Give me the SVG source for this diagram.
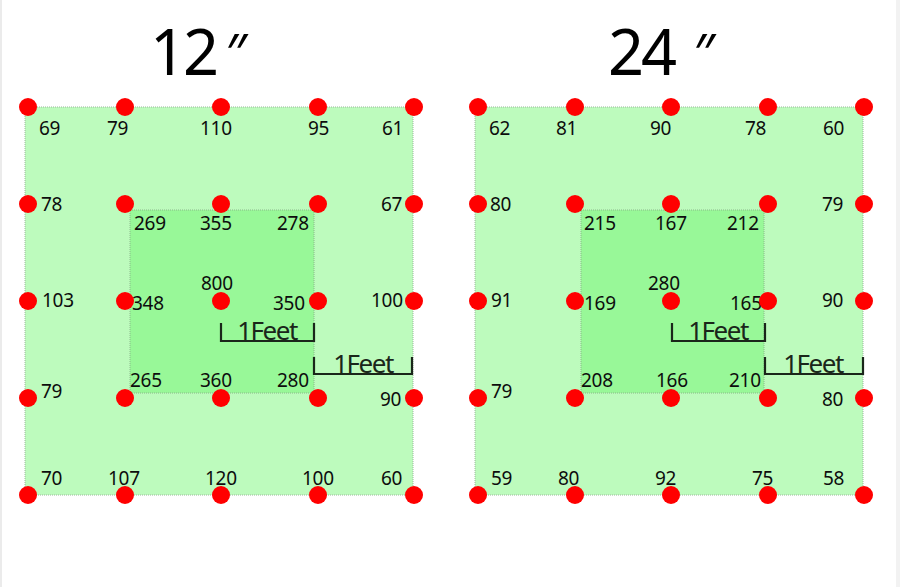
<svg xmlns="http://www.w3.org/2000/svg" width="900" height="587" viewBox="0 0 900 587">
<style>
.outer{fill:#bdfbbd;stroke:#9ab89a;stroke-width:1;stroke-dasharray:1 1}
.inner{fill:#98f898;stroke:#8ab88a;stroke-width:1;stroke-dasharray:1 1}
.dot{fill:#ff0000}
.lbl{font-family:"Noto Sans","Open Sans",sans-serif;font-size:19px;fill:#0d0d0d;letter-spacing:-0.3px}
.title{font-family:"Noto Sans","Open Sans",sans-serif;font-size:63px;fill:#000;letter-spacing:-3px}
.q{font-family:"Noto Sans","Open Sans",sans-serif;font-size:52px;fill:#000}
.ft{font-family:"Noto Sans","Open Sans",sans-serif;font-size:26px;fill:#1a261a;text-anchor:middle;letter-spacing:-1.5px}
.br{fill:none;stroke:#1a261a;stroke-width:2.2}
</style>
<defs>
<g id="dots">
<circle class="dot" cx="28" cy="107" r="9"/><circle class="dot" cx="125" cy="107" r="9"/><circle class="dot" cx="221" cy="107" r="9"/><circle class="dot" cx="318" cy="107" r="9"/><circle class="dot" cx="414" cy="107" r="9"/>
<circle class="dot" cx="28" cy="204" r="9"/><circle class="dot" cx="125" cy="204" r="9"/><circle class="dot" cx="221" cy="204" r="9"/><circle class="dot" cx="318" cy="204" r="9"/><circle class="dot" cx="414" cy="204" r="9"/>
<circle class="dot" cx="28" cy="301" r="9"/><circle class="dot" cx="125" cy="301" r="9"/><circle class="dot" cx="221" cy="301" r="9"/><circle class="dot" cx="318" cy="301" r="9"/><circle class="dot" cx="414" cy="301" r="9"/>
<circle class="dot" cx="28" cy="398" r="9"/><circle class="dot" cx="125" cy="398" r="9"/><circle class="dot" cx="221" cy="398" r="9"/><circle class="dot" cx="318" cy="398" r="9"/><circle class="dot" cx="414" cy="398" r="9"/>
<circle class="dot" cx="28" cy="495" r="9"/><circle class="dot" cx="125" cy="495" r="9"/><circle class="dot" cx="221" cy="495" r="9"/><circle class="dot" cx="318" cy="495" r="9"/><circle class="dot" cx="414" cy="495" r="9"/>
</g>
<g id="bracketShape">
<path class="br" d="M221,323 V341 H314 V323"/>
<path class="br" d="M314,357 V374 H412 V357"/>
</g>
</defs>
<rect x="0" y="0" width="900" height="587" fill="#ffffff"/>
<rect x="0" y="0" width="2" height="587" fill="#ebebeb"/>
<rect x="896" y="0" width="4" height="587" fill="#f2f2f2"/>

<g id="grid12">
<text class="title" x="150" y="75">12</text>
<text class="q" x="226" y="72">″</text>
<rect class="outer" x="25" y="107" width="388" height="388"/>
<rect class="inner" x="130" y="210" width="184" height="183"/>
<g id="labels12" class="lbl">
<text x="39" y="135">69</text><text x="107" y="135">79</text><text x="200" y="135">110</text><text x="308" y="135">95</text><text x="382" y="135">61</text>
<text x="41" y="211">78</text><text x="381" y="211">67</text>
<text x="134" y="230">269</text><text x="200" y="230">355</text><text x="277" y="230">278</text>
<text x="201" y="290">800</text>
<text x="42" y="307">103</text><text x="132" y="310">348</text><text x="273" y="310">350</text><text x="371" y="307">100</text>
<text x="130" y="387">265</text><text x="200" y="387">360</text><text x="277" y="387">280</text>
<text x="41" y="398">79</text><text x="380" y="406">90</text>
<text x="41" y="485">70</text><text x="108" y="485">107</text><text x="205" y="485">120</text><text x="302" y="485">100</text><text x="381" y="485">60</text>
</g>
<use href="#bracketShape"/>
<text class="ft" x="267" y="340">1Feet</text>
<text class="ft" x="363" y="373">1Feet</text>
<use href="#dots"/>
</g>

<g id="grid24">
<text class="title" x="608" y="75">24</text>
<text class="q" x="694" y="72">″</text>
<rect class="outer" x="475" y="107" width="388" height="388"/>
<rect class="inner" x="581" y="210" width="183" height="183"/>
<g id="labels24" class="lbl">
<text x="489" y="135">62</text><text x="556" y="135">81</text><text x="650" y="135">90</text><text x="745" y="135">78</text><text x="823" y="135">60</text>
<text x="490" y="211">80</text><text x="822" y="211">79</text>
<text x="584" y="230">215</text><text x="655" y="230">167</text><text x="727" y="230">212</text>
<text x="648" y="290">280</text>
<text x="491" y="307">91</text><text x="584" y="310">169</text><text x="730" y="310">165</text><text x="822" y="307">90</text>
<text x="581" y="387">208</text><text x="656" y="387">166</text><text x="729" y="387">210</text>
<text x="491" y="398">79</text><text x="822" y="406">80</text>
<text x="491" y="485">59</text><text x="558" y="485">80</text><text x="655" y="485">92</text><text x="752" y="485">75</text><text x="823" y="485">58</text>
</g>
<use href="#bracketShape" x="451"/>
<text class="ft" x="718" y="340">1Feet</text>
<text class="ft" x="813" y="373">1Feet</text>
<use href="#dots" x="450"/>
</g>
</svg>
